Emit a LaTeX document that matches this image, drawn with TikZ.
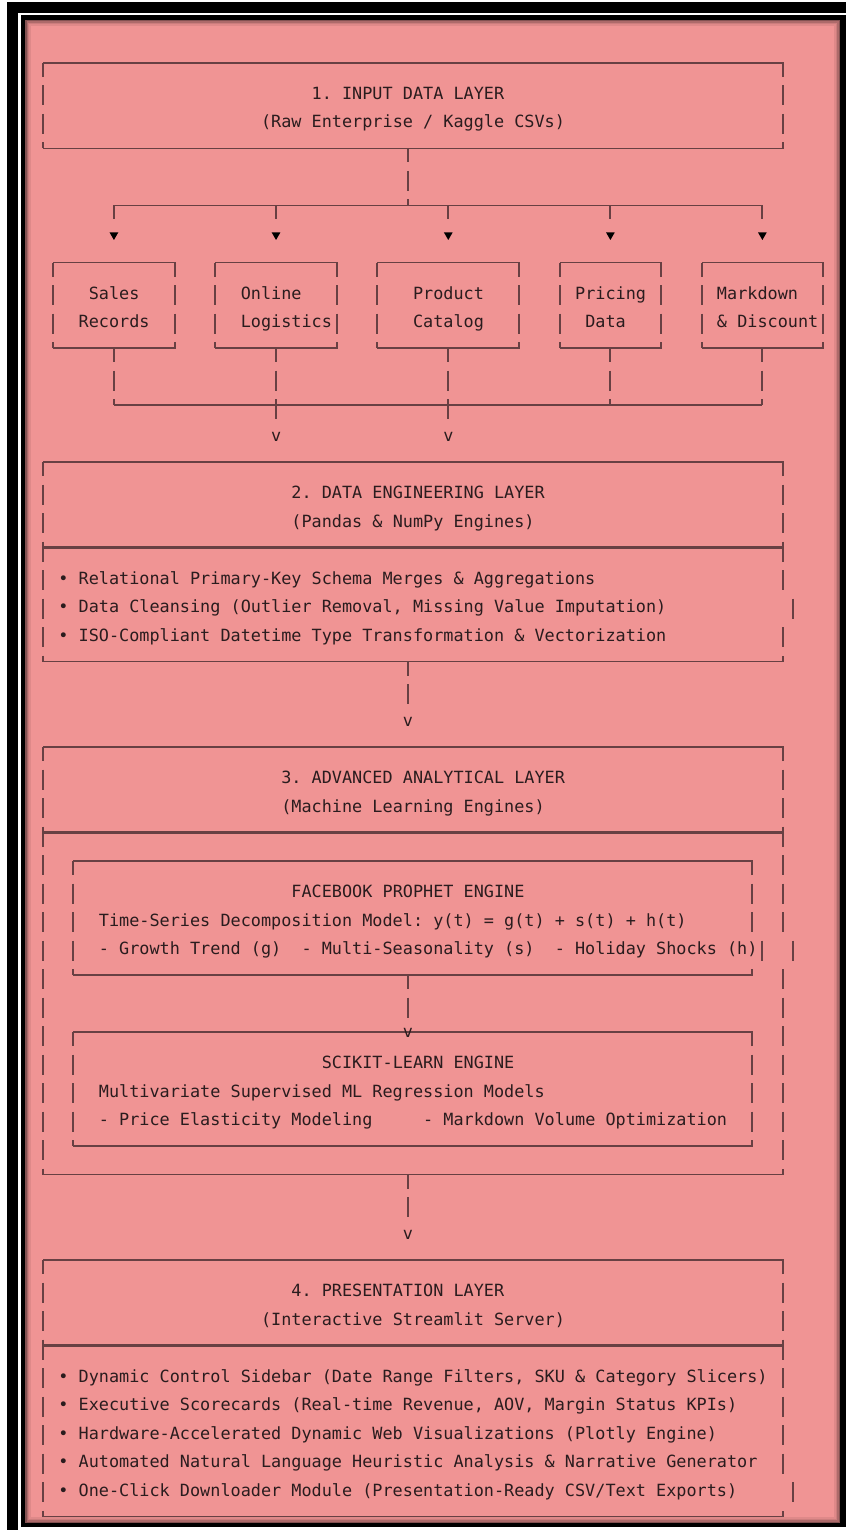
\documentclass[tikz,border=0pt]{standalone}
\usepackage{fontspec}
\setmonofont{DejaVu Sans Mono}
\usepackage{tikz}
\usetikzlibrary{shapes.geometric}

\definecolor{paper}{RGB}{240,148,148}
\definecolor{ink}{RGB}{42,28,30}
\definecolor{wire}{RGB}{104,64,67}

% box the way the text art draws it: solid top and bottom, broken sides
\newcommand\artbox[4]{%
  \draw[rule] ({cx(#2)},{ry(#3)+14}) -- ({cx(#2)},{ry(#3)}) -- ({cx(#1)},{ry(#3)});
  \draw[side] ({cx(#1)},{ry(#3)}) -- ({cx(#1)},{ry(#4)});
  \draw[rule] ({cx(#1)},{ry(#4)}) -- ({cx(#2)},{ry(#4)}) -- ({cx(#2)},{ry(#4)-6});
}
\newcommand\artbars[2]{%
  \foreach \row in {#2} {\draw[rule] ({cx(#1)},{ry(\row)-6}) -- ({cx(#1)},{ry(\row)+14});}
}

\begin{document}
\begin{tikzpicture}[
  x=1pt, y=-1pt,
  declare function={cx(\x)=43+10.132*\x; ry(\y)=63+28.5*\y;
                    lx(\x)=37.934+10.132*\x; by(\y)=71+28.5*\y;},
  rule/.style={wire, line width=1.9pt},
  split/.style={wire, line width=3.2pt},
  side/.style={rule, dash pattern=on 20pt off 8.5pt, dash phase=6pt},
  txt/.style={font=\ttfamily\fontsize{16.83}{20}\selectfont, text=ink,
              inner sep=0pt, anchor=base west},
  tip/.style={regular polygon, regular polygon sides=3, shape border rotate=180,
              fill=black, inner sep=0pt, minimum size=10pt}
]
  \useasboundingbox (0,0) rectangle (846,1530);

  % frame and paper
  \fill[white] (0,0) rectangle (846,1530);
  \fill[black] (7,2) rectangle (846,1530);
  \fill[white] (18,13) rectangle (846,1530);
  \fill[black] (21,15) rectangle (846,1527);
  \fill[paper] (25,20) rectangle (840,1523);
  \foreach \i/\o in {0.8/0.45,2.2/0.28,3.6/0.15,5/0.07}
    \draw[black, opacity=\o, line width=1.4pt] (25+\i,20+\i) rectangle (840-\i,1523-\i);

  % 1. input layer
  \artbox{0}{73}{0}{3}
  \artbars{73}{1,2}
  \node[txt] (inp-t) at ({lx(27)},{by(1)}) {1. INPUT DATA LAYER};
  \node[txt] (inp-s) at ({lx(22)},{by(2)}) {(Raw Enterprise / Kaggle CSVs)};

  % fan out to the sources
  \coordinate (inp-out) at ({cx(36)},{ry(3)});
  \coordinate (fan) at ({cx(36)},{ry(5)});
  \draw[side] (inp-out) -- (fan);
  \foreach \n/\col in {a/7,b/23,c/40,d/56,e/71} {
    \coordinate (fan-\n) at ({cx(\col)},{ry(5)});
    \coordinate (drop-\n) at ({cx(\col)},{ry(5)+14});
    \node[tip] (tip-\n) at ({cx(\col)},{ry(6)+1}) {};
    \draw[rule] (fan-\n) -- (drop-\n);
  }
  \draw[rule] (fan-a) -- (fan-e);

  \foreach \n/\lc/\rc in {a/1/13,b/17/29,c/33/47,d/51/61,e/65/77} {
    \artbox{\lc}{\rc}{7}{10}
    \artbars{\rc}{8,9}
  }
  \foreach \nm/\col/\row/\txt in {
    sales/5/8/Sales, records/4/9/Records,
    online/20/8/Online, logist/20/9/Logistics,
    product/37/8/Product, catalog/37/9/Catalog,
    pricing/53/8/Pricing, pdata/54/9/Data,
    markdown/67/8/Markdown, discount/67/9/\& Discount
  } {
    \node[txt] (\nm) at ({lx(\col)},{by(\row)}) {\txt};
  }

  % merge into the engineering layer
  \foreach \n/\col in {a/7,b/23,c/40,d/56,e/71} {
    \coordinate (src-\n) at ({cx(\col)},{ry(10)});
    \coordinate (join-\n) at ({cx(\col)},{ry(12)});
  }
  \foreach \n in {a,d,e} \draw[side] (src-\n) -- (join-\n);
  \foreach \n/\col in {b/23,c/40} {
    \coordinate (pass-\n) at ({cx(\col)},{ry(12)+14});
    \draw[side] (src-\n) -- (pass-\n);
    \node[txt] (v-\n) at ({lx(\col)},{by(13)}) {v};
  }
  \draw[rule] (join-a) -- (join-e);

  % 2. data engineering layer
  \artbox{0}{73}{14}{21}
  \artbars{73}{15,16,17,18,20}
  \artbars{74}{19}
  \draw[split] ({cx(0)},{ry(17)}) -- ({cx(73)},{ry(17)});
  \node[txt] (eng-t) at ({lx(25)},{by(15)}) {2. DATA ENGINEERING LAYER};
  \node[txt] (eng-s) at ({lx(25)},{by(16)}) {(Pandas \& NumPy Engines)};
  \node[txt] (eng-1) at ({lx(2)},{by(18)}) {• Relational Primary-Key Schema Merges \& Aggregations};
  \node[txt] (eng-2) at ({lx(2)},{by(19)}) {• Data Cleansing (Outlier Removal, Missing Value Imputation)};
  \node[txt] (eng-3) at ({lx(2)},{by(20)}) {• ISO-Compliant Datetime Type Transformation \& Vectorization};
  \coordinate (eng-out) at ({cx(36)},{ry(21)});
  \coordinate (eng-end) at ({cx(36)},{ry(22)+14});
  \draw[side] (eng-out) -- (eng-end);
  \node[txt] (v-eng) at ({lx(36)},{by(23)}) {v};

  % 3. analytical layer
  \artbox{0}{73}{24}{39}
  \artbars{73}{25,...,30}
  \artbars{73}{32,...,38}
  \artbars{74}{31}
  \draw[split] ({cx(0)},{ry(27)}) -- ({cx(73)},{ry(27)});
  \node[txt] (ana-t) at ({lx(24)},{by(25)}) {3. ADVANCED ANALYTICAL LAYER};
  \node[txt] (ana-s) at ({lx(24)},{by(26)}) {(Machine Learning Engines)};

  \artbox{3}{70}{28}{32}
  \artbars{70}{29,30}
  \artbars{71}{31}
  \node[txt] (pro-t) at ({lx(25)},{by(29)}) {FACEBOOK PROPHET ENGINE};
  \node[txt] (pro-1) at ({lx(6)},{by(30)}) {Time-Series Decomposition Model: y(t) = g(t) + s(t) + h(t)};
  \node[txt] (pro-2) at ({lx(6)},{by(31)}) {- Growth Trend (g)\ \ - Multi-Seasonality (s)\ \ - Holiday Shocks (h)};
  \coordinate (pro-out) at ({cx(36)},{ry(32)});
  \coordinate (pro-end) at ({cx(36)},{ry(33)+14});
  \draw[side] (pro-out) -- (pro-end);

  \artbox{3}{70}{34}{38}
  \artbars{70}{35,36,37}
  \node[txt] (v-sci) at ({lx(36)},{ry(34)+5}) {v};
  \node[txt] (sci-t) at ({lx(28)},{by(35)}) {SCIKIT-LEARN ENGINE};
  \node[txt] (sci-1) at ({lx(6)},{by(36)}) {Multivariate Supervised ML Regression Models};
  \node[txt] (sci-2) at ({lx(6)},{by(37)}) {- Price Elasticity Modeling};
  \node[txt] (sci-3) at ({lx(38)},{by(37)}) {- Markdown Volume Optimization};

  \coordinate (ana-out) at ({cx(36)},{ry(39)});
  \coordinate (ana-end) at ({cx(36)},{ry(40)+14});
  \draw[side] (ana-out) -- (ana-end);
  \node[txt] (v-ana) at ({lx(36)},{by(41)}) {v};

  % 4. presentation layer
  \artbox{0}{73}{42}{51}
  \artbars{73}{43,...,49}
  \artbars{74}{50}
  \draw[split] ({cx(0)},{ry(45)}) -- ({cx(73)},{ry(45)});
  \node[txt] (pre-t) at ({lx(25)},{by(43)}) {4. PRESENTATION LAYER};
  \node[txt] (pre-s) at ({lx(22)},{by(44)}) {(Interactive Streamlit Server)};
  \node[txt] (pre-1) at ({lx(2)},{by(46)}) {• Dynamic Control Sidebar (Date Range Filters, SKU \& Category Slicers)};
  \node[txt] (pre-2) at ({lx(2)},{by(47)}) {• Executive Scorecards (Real-time Revenue, AOV, Margin Status KPIs)};
  \node[txt] (pre-3) at ({lx(2)},{by(48)}) {• Hardware-Accelerated Dynamic Web Visualizations (Plotly Engine)};
  \node[txt] (pre-4) at ({lx(2)},{by(49)}) {• Automated Natural Language Heuristic Analysis \& Narrative Generator};
  \node[txt] (pre-5) at ({lx(2)},{by(50)}) {• One-Click Downloader Module (Presentation-Ready CSV/Text Exports)};
\end{tikzpicture}
\end{document}
